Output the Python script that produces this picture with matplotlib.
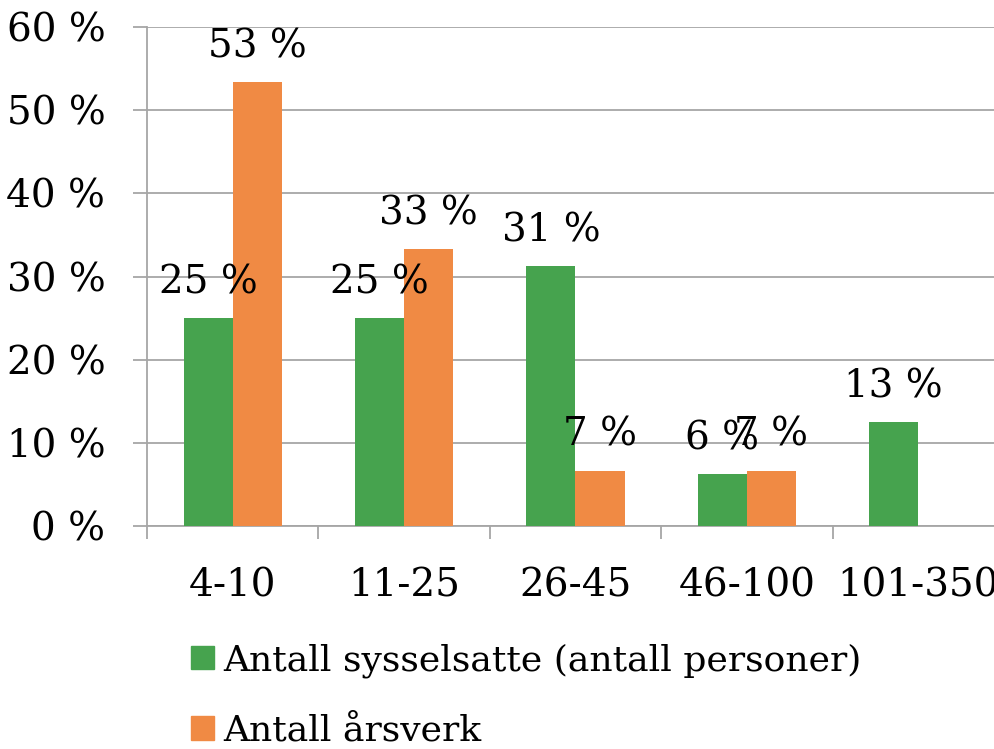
import matplotlib.pyplot as plt
import numpy as np
from matplotlib.patches import Patch

plt.rcParams["font.family"] = ["DejaVu Serif"]

# ── Data ──────────────────────────────────────────────────────────────────────
categories = ["4-10", "11-25", "26-45", "46-100", "101-350"]
sysselsatte = [25.0, 25.0, 31.25, 6.25, 12.5]
arsverk     = [53.33, 33.33, 6.67, 6.67, None]
labels_s    = ["25 %", "25 %", "31 %", "6 %", "13 %"]
labels_a    = ["53 %", "33 %", "7 %", "7 %", None]

GREEN  = "#46A34E"
ORANGE = "#F08A44"
GRID   = "#A6A6A6"
FS     = 28

fig = plt.figure(figsize=(9.95, 7.49), dpi=100)
ax = fig.add_axes([147 / 995, 1 - 526 / 749, 857 / 995, 499 / 749])

x = np.arange(len(categories))
w = 0.286
ax.bar(x - w / 2, sysselsatte, w, color=GREEN, zorder=3)
ax.bar([xi + w / 2 for xi, v in zip(x, arsverk) if v is not None],
       [v for v in arsverk if v is not None], w, color=ORANGE, zorder=3)

for xi, v, lab in zip(x, sysselsatte, labels_s):
    ax.annotate(lab, (xi - w / 2, v), xytext=(0, 12), textcoords="offset points",
                ha="center", va="bottom", fontsize=FS)
for xi, v, lab in zip(x, arsverk, labels_a):
    if v is None:
        continue
    ax.annotate(lab, (xi + w / 2, v), xytext=(0, 12), textcoords="offset points",
                ha="center", va="bottom", fontsize=FS)

ax.set_xlim(-0.5, len(categories) - 0.5)
ax.set_ylim(0, 60)
ax.set_yticks(np.arange(0, 61, 10))
ax.set_yticklabels([f"{t} %" for t in range(0, 61, 10)], fontsize=FS)
ax.yaxis.grid(True, color=GRID, linewidth=1.3, zorder=0)
ax.tick_params(axis="y", length=10, width=1.3, color=GRID, pad=20)

ax.set_xticks(x)
ax.set_xticklabels(categories, fontsize=FS)
ax.set_xticks(np.arange(-0.5, len(categories), 1), minor=True)
ax.tick_params(axis="x", which="major", length=0, pad=30)
ax.tick_params(axis="x", which="minor", length=9, width=1.3, color=GRID)

for side in ["top", "right"]:
    ax.spines[side].set_visible(False)
for side in ["left", "bottom"]:
    ax.spines[side].set_color(GRID)
    ax.spines[side].set_linewidth(1.3)

handles = [Patch(color=GREEN, label="Antall sysselsatte (antall personer)"),
           Patch(color=ORANGE, label="Antall årsverk")]
fig.legend(handles=handles, loc="upper left", bbox_to_anchor=(184 / 995, 1 - 636 / 749),
           frameon=False, fontsize=26, handlelength=0.62, handleheight=0.62,
           handletextpad=0.28, labelspacing=1.0, borderaxespad=0, borderpad=0.2)

fig.savefig("out.png", dpi=100)
